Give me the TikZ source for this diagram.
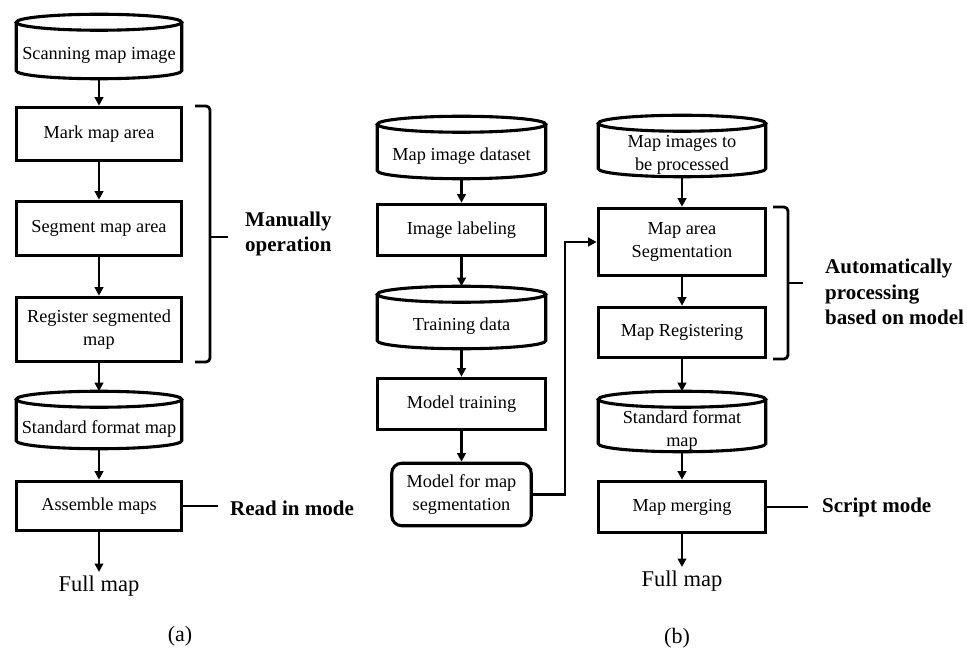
\documentclass[tikz,border=0pt]{standalone}
\usepackage{fontspec}
\setmainfont{Liberation Serif}
\usetikzlibrary{arrows.meta,calc}
\tikzset{
 boxline/.style={line width=3.1pt, line join=miter},
 procbox/.style={boxline, draw, inner sep=0pt, align=center, font=\fontsize{18.3}{23}\selectfont},
 roundbox/.style={procbox, rounded corners=10pt},
 cylarea/.style={inner sep=0pt, outer sep=0pt},
 cyltext/.style={inner sep=0pt, align=center, font=\fontsize{18.3}{23}\selectfont},
 arr/.style={line width=2.5pt, -{Triangle[length=8.5pt,width=8.5pt]}},
 ticke/.style={line width=2.8pt},
 bracepath/.style={line width=2.8pt, rounded corners=4pt},
 note/.style={inner sep=0pt, anchor=west, align=left, font=\fontsize{21}{25.5}\selectfont\bfseries},
 outtext/.style={inner sep=4pt, anchor=north, font=\fontsize{22.5}{26}\selectfont},
 sublabel/.style={inner sep=0pt, font=\fontsize{22}{26}\selectfont},
}
\newcommand{\mkbox}[7]{\node[#1, minimum width={(#5-#3-2.5)*1pt}, minimum height={(#6-#4-2.5)*1pt}] (#2) at ({(#3+#5)/2},{-(#4+#6)/2}) {#7};}
\newcommand{\mkcyl}[6]{%
 \node[cylarea, minimum width={(#4-#2-2.5)*1pt}, minimum height={(#5-#3-2.5)*1pt}] (#1) at ({(#2+#4)/2},{-(#3+#5)/2}) {};
 \draw[boxline] ([yshift=-8pt]#1.north west) -- ([yshift=8pt]#1.south west) arc[start angle=180, end angle=360, x radius={(#4-#2-2.5)/2*1pt}, y radius=8pt] -- ([yshift=-8pt]#1.north east);
 \draw[boxline] ([yshift=-8pt]#1.north) ellipse[x radius={(#4-#2-2.5)/2*1pt}, y radius=8pt];
 \node[cyltext] (#1-t) at ([yshift=-9pt]#1.center) {#6};
}
\begin{document}
\begin{tikzpicture}[x=1pt,y=1pt]
\useasboundingbox (0,0) rectangle (967,-652);
% ---------- (a) ----------
\mkcyl{A1}{15}{13}{183}{80}{Scanning map image}
\mkbox{procbox}{A2}{15}{106}{183}{162}{Mark map area}
\mkbox{procbox}{A3}{15}{200}{183}{257}{Segment map area}
\mkbox{procbox}{A4}{15}{296}{183}{363}{Register segmented\\map}
\mkcyl{A5}{15}{390}{183}{450}{Standard format map}
\mkbox{procbox}{A6}{15}{480}{183}{532}{Assemble maps}
\node[outtext] (fullA) at (99,-572) {Full map};
\draw[arr] (A1.south) -- (A2.north);
\draw[arr] (A2.south) -- (A3.north);
\draw[arr] (A3.south) -- (A4.north);
\draw[arr] (A4.south) -- (A5.north);
\draw[arr] (A5.south) -- (A6.north);
\draw[arr] (A6.south) -- (fullA.north);
\draw[bracepath] (195,-106) -- (210,-106) -- (210,-362) -- (195,-362);
\draw[ticke] (210,-237) -- (228,-237);
\node[note] (manual) at (245,-234) {Manually\\operation};
\node[note] (rm) at (230,-508) {Read in mode};
\draw[ticke] (A6.east) -- ++(35,0);
\node[sublabel] (suba) at (180,-636) {(a)};
% ---------- (b) left column ----------
\mkcyl{B1}{376}{115}{547}{180}{Map image dataset}
\mkbox{procbox}{B2}{376}{203}{547}{257}{Image labeling}
\mkcyl{B3}{376}{285}{547}{350}{Training data}
\mkbox{procbox}{B4}{376}{377}{547}{431}{Model training}
\mkbox{roundbox}{B5}{390.5}{462}{532.5}{527}{Model for map\\segmentation}
\draw[arr] (B1.south) -- (B2.north);
\draw[arr] (B2.south) -- (B3.north);
\draw[arr] (B3.south) -- (B4.north);
\draw[arr] (B4.south) -- (B5.north);
% ---------- (b) right column ----------
\mkcyl{C1}{597}{114}{767}{178}{Map images to\\be processed}
\mkbox{procbox}{C2}{597}{207}{767}{277}{Map area\\Segmentation}
\mkbox{procbox}{C3}{597}{306}{767}{359}{Map Registering}
\mkcyl{C4}{597}{390}{767}{453}{Standard format\\map}
\mkbox{procbox}{C5}{597}{480}{767}{534}{Map merging}
\node[outtext] (fullB) at (682,-567) {Full map};
\draw[arr] (C1.south) -- (C2.north);
\draw[arr] (C2.south) -- (C3.north);
\draw[arr] (C3.south) -- (C4.north);
\draw[arr] (C4.south) -- (C5.north);
\draw[arr] (C5.south) -- (fullB.north);
\coordinate (bendx) at (565,0);
\draw[arr] (B5.east) -- (B5.east -| bendx) |- (C2.west);
\draw[bracepath] (773,-207) -- (788,-207) -- (788,-359) -- (773,-359);
\draw[ticke] (788,-283) -- (803,-283);
\node[note] (auto) at (825,-292) {Automatically\\processing\\based on model};
\node[note] (sm) at (822,-507) {Script mode};
\draw[ticke] (C5.east) -- ++(41,0);
\node[sublabel] (subb) at (677,-638) {(b)};
\end{tikzpicture}
\end{document}
